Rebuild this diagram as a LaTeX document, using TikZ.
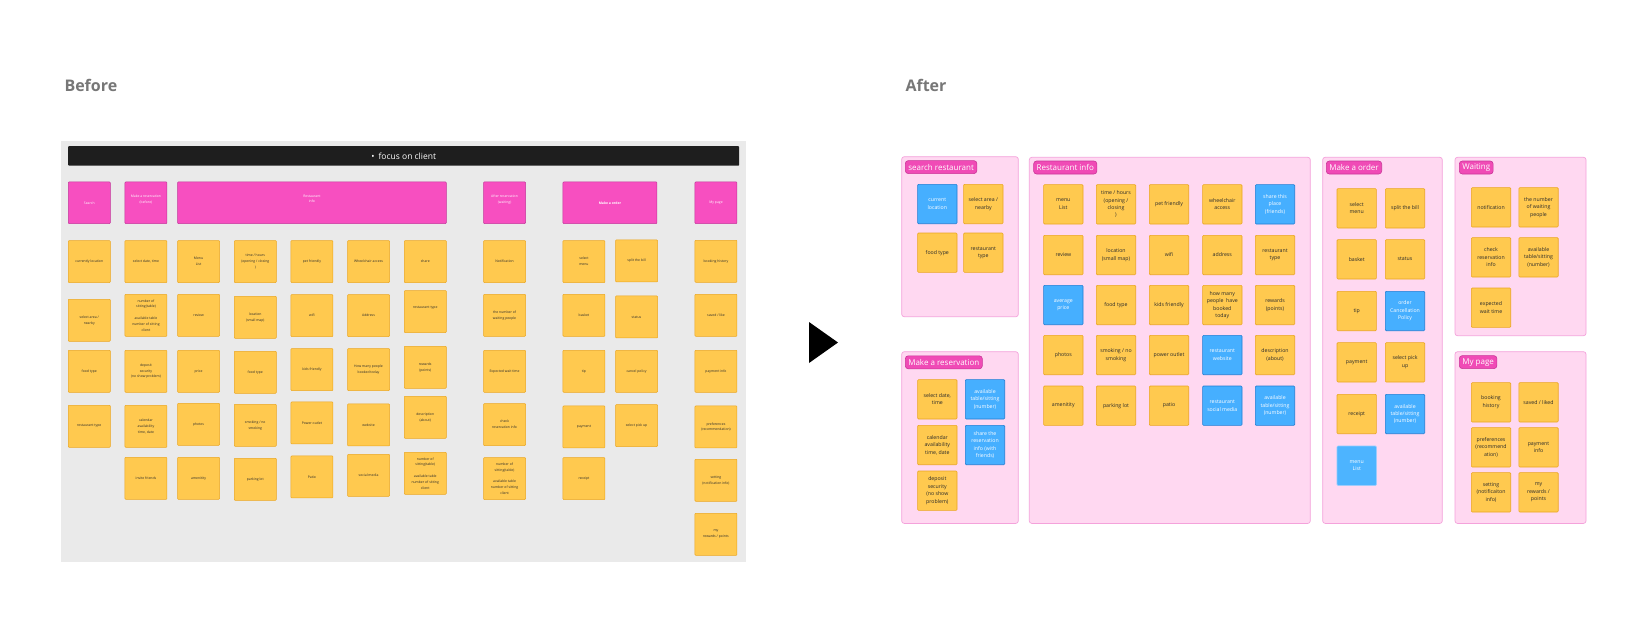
\documentclass[tikz,border=0pt]{standalone}
\usepackage{fontspec}
\setmainfont{Open Sans}
\definecolor{yellowc}{HTML}{FFC94F}
\definecolor{yellowd}{HTML}{EBA620}
\definecolor{pinkc}{HTML}{F74FC0}
\definecolor{pinkd}{HTML}{C2369A}
\definecolor{panelc}{HTML}{FFD8F1}
\definecolor{paneld}{HTML}{F4A2DB}
\definecolor{tagc}{HTML}{F04BB6}
\definecolor{tagd}{HTML}{C93597}
\definecolor{bluec}{HTML}{46AFFF}
\definecolor{blued}{HTML}{1F7DD4}
\definecolor{lightbluec}{HTML}{4DB4FF}
\definecolor{lightblued}{HTML}{8CCBFF}
\definecolor{greybg}{HTML}{EAEAEA}
\definecolor{barc}{HTML}{1E1E1E}
\definecolor{inkc}{HTML}{2A2A2A}
\definecolor{titlec}{HTML}{777777}

\begin{document}
\begin{tikzpicture}[x=1pt,y=-1pt,
  stickyb/.style={draw=yellowd, fill=yellowc, line width=0.5pt, rounded corners=0.8pt, minimum width=42pt, minimum height=42pt, inner sep=0pt, anchor=north west, align=center, text=inkc, font=\fontsize{3.4}{5.8}\selectfont},
  headb/.style={stickyb, draw=pinkd, fill=pinkc, text=white, minimum height=41.6pt},
  sticky/.style={draw=yellowd, fill=yellowc, line width=0.6pt, rounded corners=1pt, minimum width=39.4pt, minimum height=39.4pt, inner sep=0pt, anchor=north west, align=center, text=inkc, font=\fontsize{5.2}{7.4}\selectfont},
  bluesticky/.style={sticky, draw=blued, fill=bluec, text=white},
  panel/.style={draw=paneld, fill=panelc, line width=0.7pt, rounded corners=2.5pt},
  tag/.style={draw=tagd, fill=tagc, line width=0.6pt, rounded corners=3pt, text=white, anchor=north west, inner xsep=3pt, inner ysep=0pt, minimum height=13pt, font=\fontsize{8}{9.6}\selectfont},
  title/.style={anchor=base west, text=titlec, font=\fontsize{16}{19}\selectfont\bfseries}]
\useasboundingbox (0,0) rectangle (1648,638);
\fill[white] (0,0) rectangle (1648,638);

% before
\node[title] (before) at (61,91) {Before};
\fill[greybg] (61,141) rectangle (746,562);
\node[fill=barc, text=white, minimum width=671pt, minimum height=19.5pt, inner sep=0pt, rounded corners=0.8pt, anchor=north west, font=\fontsize{8.5}{10}\selectfont] (bar) at (68,146) {\textbullet\hspace{4pt}focus on client};

\node[headb] (h1) at (68,181.7) {Search};
\node[headb] (h2) at (124.7,181.7) {Make a reservation\\(before)\\[2pt]};
\node[headb, minimum width=268.7pt] (h3) at (177.3,181.7) {Restaurant\\info\\[2pt]};
\node[headb] (h4) at (483.3,181.7) {After reservation\\(waiting)\\[2pt]};
\node[headb, minimum width=94pt] (h5) at (562.7,181.7) {\bfseries Make a order};
\node[headb] (h6) at (694.7,181.7) {My page};

\node[stickyb] (b11) at (68,240.3) {currently location};
\node[stickyb] (b12) at (68,299) {select area /\\nearby};
\node[stickyb] (b13) at (68,350) {food type};
\node[stickyb] (b14) at (68,405) {restaurant type};

\node[stickyb] (b21) at (124.7,240.3) {select date, time};
\node[stickyb] (b22) at (124.7,294) {number of\\sitting(table)\\[5.8pt]available table\\number of sitting\\client};
\node[stickyb] (b23) at (124.7,350) {deposit\\security\\(no show problem)};
\node[stickyb] (b24) at (124.7,405) {calendar\\availability\\time, date};
\node[stickyb] (b25) at (124.7,457) {invite friends};

\node[stickyb] (b31) at (177.3,240.3) {Menu\\List};
\node[stickyb] (b32) at (177.3,294) {review};
\node[stickyb] (b33) at (177.3,350) {price};
\node[stickyb] (b34) at (177.3,403) {photos};
\node[stickyb] (b35) at (177.3,457) {amenitity};

\node[stickyb] (b41) at (234,240.3) {time / hours\\(opening / closing\\)};
\node[stickyb] (b42) at (234,296) {location\\(small map)};
\node[stickyb] (b43) at (234,351) {food type};
\node[stickyb] (b44) at (234,404) {smoking / no\\smoking};
\node[stickyb] (b45) at (234,458) {parking lot};

\node[stickyb] (b51) at (290.7,240.3) {pet friendly};
\node[stickyb] (b52) at (290.7,294.3) {wifi};
\node[stickyb] (b53) at (290.7,348.3) {kids friendly};
\node[stickyb] (b54) at (290.7,401.7) {Power outlet};
\node[stickyb] (b55) at (290.7,455.7) {Patio};

\node[stickyb] (b61) at (347.3,240.3) {Wheelchair access};
\node[stickyb] (b62) at (347.3,294.3) {Address};
\node[stickyb] (b63) at (347.3,348.3) {How many people\\booked today};
\node[stickyb] (b64) at (347.3,403.7) {website};
\node[stickyb] (b65) at (347.3,454) {social media};

\node[stickyb] (b71) at (404,240.3) {share};
\node[stickyb] (b72) at (404,290.3) {restaurant type\\[3pt]};
\node[stickyb] (b73) at (404,346) {rewards\\(points)};
\node[stickyb] (b74) at (404,396) {description\\(about)};
\node[stickyb] (b75) at (404,452) {number of\\sitting(table)\\[5.8pt]available table\\number of sitting\\client};

\node[stickyb] (b81) at (483.3,240.3) {Notification};
\node[stickyb] (b82) at (483.3,294) {the number of\\waiting people};
\node[stickyb] (b83) at (483.3,350) {Expected wait time};
\node[stickyb] (b84) at (483.3,403.3) {check\\reservation info};
\node[stickyb] (b85) at (483.3,457.3) {number of\\sitting(table)\\[5.8pt]available table\\number of sitting\\client};

\node[stickyb] (b91) at (562.7,240.3) {select\\menu};
\node[stickyb] (b92) at (562.7,294) {basket};
\node[stickyb] (b93) at (562.7,350) {tip};
\node[stickyb] (b94) at (562.7,405.7) {payment};
\node[stickyb] (b95) at (562.7,457.3) {receipt};

\node[stickyb] (b101) at (615.3,239.7) {split the bill};
\node[stickyb] (b102) at (615.3,295.7) {status};
\node[stickyb] (b103) at (615.3,350) {cancel policy};
\node[stickyb] (b104) at (615.3,404.3) {select pick up};

\node[stickyb] (b111) at (694.7,240) {booking history};
\node[stickyb] (b112) at (694.7,294) {saved / like};
\node[stickyb] (b113) at (694.7,350) {payment info};
\node[stickyb] (b114) at (694.7,405.7) {preferences\\(recommendation)};
\node[stickyb] (b115) at (694.7,459) {setting\\(notification info)};
\node[stickyb] (b116) at (694.7,513) {my\\rewards / points};

% arrow
\fill[black] (809,322) -- (838,342.5) -- (809,363) -- cycle;

% after
\node[title] (after) at (902,91) {After};
\draw[panel] (901.7,156.7) rectangle (1018.3,316.7);
\draw[panel] (901.7,351.7) rectangle (1018.3,523.4);
\draw[panel] (1029.3,157.3) rectangle (1310.3,523.4);
\draw[panel] (1322.7,157.3) rectangle (1442.3,523.4);
\draw[panel] (1455,157.3) rectangle (1586,335.7);
\draw[panel] (1455,351.7) rectangle (1586,523.4);

\node[tag] (t1) at (905,160.3) {search restaurant};
\node[tag] (t2) at (905,355.5) {Make a reservation};
\node[tag] (t3) at (1033.3,160.7) {Restaurant info};
\node[tag] (t4) at (1326,160.7) {Make a order};
\node[tag] (t5) at (1459,160.7) {Waiting};
\node[tag] (t6) at (1459,355.3) {My page};

\node[bluesticky] (s1) at (917.3,184) {current\\location};
\node[sticky] (s2) at (963.3,184) {select area /\\nearby};
\node[sticky] (s3) at (917.3,232.7) {food type};
\node[sticky] (s4) at (963.3,232.7) {restaurant\\type};

\node[sticky] (r1) at (917.3,379.3) {select date,\\time};
\node[bluesticky] (r2) at (965,379.3) {available\\table/sitting\\(number)};
\node[sticky] (r3) at (917.3,425) {calendar\\availability\\time, date};
\node[bluesticky] (r4) at (965,425) {share the\\reservation\\info (with\\friends)};
\node[sticky] (r5) at (917.3,470.7) {deposit\\security\\(no show\\problem)};

\node[sticky] (i11) at (1043.3,184.3) {menu\\List};
\node[sticky] (i12) at (1096,184.3) {time / hours\\(opening /\\closing\\)};
\node[sticky] (i13) at (1149,184.3) {pet friendly};
\node[sticky] (i14) at (1202.3,184.3) {wheelchair\\access};
\node[bluesticky] (i15) at (1255,184.3) {share this\\place\\(friends)};
\node[sticky] (i21) at (1043.3,235) {review};
\node[sticky] (i22) at (1096,235) {location\\(small map)};
\node[sticky] (i23) at (1149,235) {wifi};
\node[sticky] (i24) at (1202.3,235) {address};
\node[sticky] (i25) at (1255,235) {restaurant\\type};
\node[bluesticky] (i31) at (1043.3,285) {average\\price};
\node[sticky] (i32) at (1096,285) {food type};
\node[sticky] (i33) at (1149,285) {kids friendly};
\node[sticky] (i34) at (1202.3,285) {how many\\people\ \ have\\booked\\today};
\node[sticky] (i35) at (1255,285) {rewards\\(points)};
\node[sticky] (i41) at (1043.3,335) {photos};
\node[sticky] (i42) at (1096,335) {smoking / no\\smoking};
\node[sticky] (i43) at (1149,335) {power outlet};
\node[bluesticky] (i44) at (1202.3,335) {restaurant\\website};
\node[sticky] (i45) at (1255,335) {description\\(about)};
\node[sticky] (i51) at (1043.3,385.7) {amenitity};
\node[sticky] (i52) at (1096,385.7) {parking lot};
\node[sticky] (i53) at (1149,385.7) {patio};
\node[bluesticky] (i54) at (1202.3,385.7) {restaurant\\social media};
\node[bluesticky] (i55) at (1255,385.7) {available\\table/sitting\\(number)};

\node[sticky] (o11) at (1336.7,188.3) {select\\menu};
\node[sticky] (o12) at (1385,188.3) {split the bill};
\node[sticky] (o21) at (1336.7,239.3) {basket};
\node[sticky] (o22) at (1385,239.3) {status};
\node[sticky] (o31) at (1336.7,291) {tip};
\node[bluesticky] (o32) at (1385,291) {order\\Cancellation\\Policy};
\node[sticky] (o41) at (1336.7,342.3) {payment};
\node[sticky] (o42) at (1385,342.3) {select pick\\up};
\node[sticky] (o51) at (1336.7,394) {receipt};
\node[bluesticky] (o52) at (1385,394) {available\\table/sitting\\(number)};
\node[bluesticky, draw=lightblued, fill=lightbluec] (o61) at (1336.7,445.7) {menu\\List};

\node[sticky] (w11) at (1471,187.3) {notification};
\node[sticky] (w12) at (1518.5,187.3) {the number\\of waiting\\people};
\node[sticky] (w21) at (1471,237.3) {check\\reservation\\info};
\node[sticky] (w22) at (1518.5,237.3) {available\\table/sitting\\(number)};
\node[sticky] (w31) at (1471,287.7) {expected\\wait time};

\node[sticky] (m11) at (1471,382.3) {booking\\history};
\node[sticky] (m12) at (1518.5,382.3) {saved / liked};
\node[sticky] (m21) at (1471,427.3) {preferences\\(recommend\\ation)};
\node[sticky] (m22) at (1518.5,427.3) {payment\\info};
\node[sticky] (m31) at (1471,472.3) {setting\\(notificaiton\\info)};
\node[sticky] (m32) at (1518.5,472.3) {my\\rewards /\\points};
\end{tikzpicture}
\end{document}
